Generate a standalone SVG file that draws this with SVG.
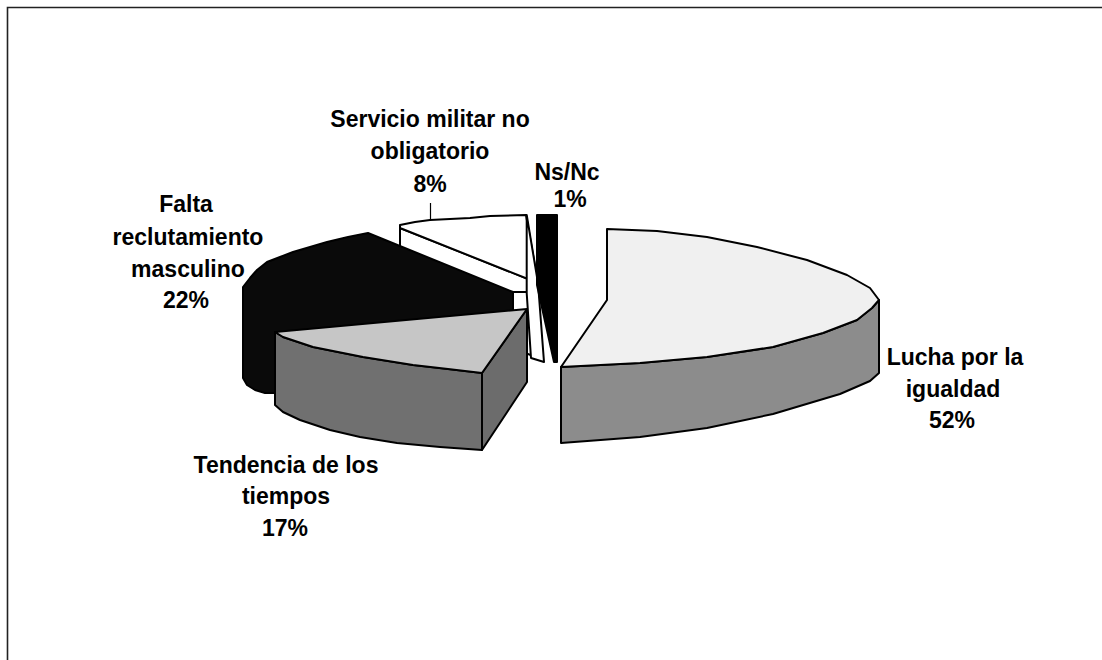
<svg xmlns="http://www.w3.org/2000/svg" width="1102" height="660" viewBox="0 0 1102 660">
<style>
.edge{stroke:#000;stroke-width:2;stroke-linejoin:round}
.lbl{font-family:"Liberation Sans",Arial,sans-serif;font-weight:bold;font-size:23px;fill:#000;text-anchor:middle}
.lead{stroke:#000;stroke-width:1.2;fill:none}
</style>
<rect width="1102" height="660" fill="#fff"/>
<path d="M7.5,662 V7.5 H1104" fill="none" stroke="#222" stroke-width="1.6"/>

<g id="slice-servicio">
  <polygon class="edge" fill="#fff" points="400,228 538,283 538,358 400,303"/>
  <path class="edge" fill="#fff" d="M400,225 L415,222 L430,220 L450,219 L470,218 L490,216 L526,215 L538,283 L400,228 Z"/>
</g>

<g id="slice-falta">
  <path class="edge" fill="#0a0a0a" d="M243,287 L250,278 L257,270 L267,262 L280,257 L293,252 L310,247 L327,242 L348,237 L368,233 L513,292 L513,320 L280,340 L276,393 L265,393 L255,390 L247,385 L243,378 Z"/>
  <line class="edge" x1="513" y1="292" x2="527" y2="292"/>
</g>

<g id="slice-servicio-side">
  <polygon class="edge" fill="#fff" points="526.7,215 538,283 544,362 531,358 526.7,293"/>
</g>

<g id="slice-tendencia">
  <polygon class="edge" fill="#6c6c6c" points="527,309 482,373 482,450 527,382"/>
  <path class="edge" fill="#707070" d="M275,332 L283,337 L298,342 L313,347 L338,352 L363,357 L388,361 L413,365 L448,369 L482,373 L482,450 L440,447 L397,443 L360,437 L330,430 L300,420 L283,412 L275,405 Z"/>
  <path class="edge" fill="#c6c6c6" d="M527,309 L275,332 L283,337 L298,342 L313,347 L338,352 L363,357 L388,361 L413,365 L448,369 L482,373 Z"/>
</g>

<g id="slice-nsnc">
  <polygon class="edge" fill="#000" points="537,215 557,215 557,362 554,362 537,285"/>
</g>

<g id="slice-lucha">
  <path class="edge" fill="#8c8c8c" d="M561,367 L640,363 L707,357 L773,347 L823,333 L857,320 L872,308 L879,300 L879,373 L870,381 L840,394 L773,414 L707,428 L640,437 L561,443 Z"/>
  <path class="edge" fill="#f0f0f0" d="M607,300 L607,229 L657,231 L707,237 L757,247 L807,260 L847,275 L870,288 L879,300 L872,308 L857,320 L823,333 L773,347 L707,357 L640,363 L561,367 Z"/>
</g>

<g id="connectors">
  <line class="lead" x1="430.5" y1="203" x2="430.5" y2="220"/>
</g>

<g id="label-servicio">
  <text class="lbl" x="430" y="127">Servicio militar no</text>
  <text class="lbl" x="430" y="159">obligatorio</text>
  <text class="lbl" x="430" y="192">8%</text>
</g>
<g id="label-nsnc">
  <text class="lbl" x="567" y="180">Ns/Nc</text>
  <text class="lbl" x="570" y="207">1%</text>
</g>
<g id="label-falta">
  <text class="lbl" x="186" y="212">Falta</text>
  <text class="lbl" x="188" y="245">reclutamiento</text>
  <text class="lbl" x="188" y="277">masculino</text>
  <text class="lbl" x="186" y="308">22%</text>
</g>
<g id="label-lucha">
  <text class="lbl" x="955" y="365">Lucha por la</text>
  <text class="lbl" x="953" y="397">igualdad</text>
  <text class="lbl" x="952" y="428">52%</text>
</g>
<g id="label-tendencia">
  <text class="lbl" x="286" y="473">Tendencia de los</text>
  <text class="lbl" x="286" y="504">tiempos</text>
  <text class="lbl" x="285" y="536">17%</text>
</g>
</svg>
